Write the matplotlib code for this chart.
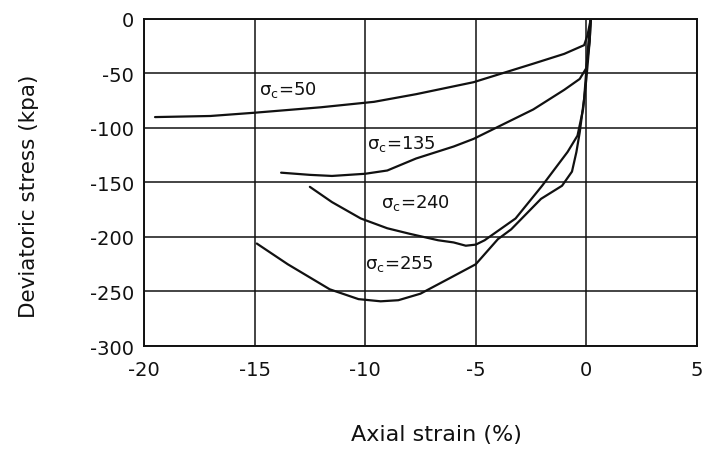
import matplotlib
matplotlib.use("Agg")
import matplotlib.pyplot as plt

plt.rcParams['font.family'] = ['DejaVu Sans']
plt.rcParams['axes.unicode_minus'] = False
plt.rcParams['mathtext.fontset'] = 'dejavusans'

# Axial strain (%) / deviatoric stress (kPa) for each confining pressure
strain_50 = [-19.5, -17.0, -15.0, -12.0, -9.6, -7.7, -5.1, -2.4, -1.0, -0.1, 0.05, 0.15, 0.2]
stress_50 = [-90, -89, -86, -81, -76, -69, -58, -41, -32, -24, -15, -5, 0]

strain_135 = [-13.8, -12.5, -11.5, -10.0, -9.0, -7.7, -6.0, -5.1, -4.3, -2.4, -1.0, -0.3, 0.0, 0.15, 0.2]
stress_135 = [-141, -143, -144, -142, -139, -128, -117, -110, -102, -83, -65, -55, -45, -20, 0]

strain_240 = [-12.5, -11.5, -10.2, -9.0, -8.0, -6.7, -6.0, -5.45, -5.0, -4.6, -3.2, -2.0,
              -0.85, -0.4, -0.15, 0.0, 0.15, 0.2]
stress_240 = [-154, -168, -183, -192, -197, -203, -205, -208, -207, -203, -183, -153,
              -122, -107, -83, -55, -20, 0]

strain_255 = [-14.9, -13.5, -11.6, -10.3, -9.3, -8.5, -7.5, -6.2, -5.0, -4.0, -3.4, -2.05,
              -1.1, -0.65, -0.45, -0.3, -0.1, 0.1, 0.2]
stress_255 = [-206, -225, -248, -257, -259, -258, -252, -238, -225, -202, -193, -165,
              -153, -140, -122, -104, -73, -20, 0]

curve_labels = ["50", "135", "240", "255"]
label_pos = [(-14.8, -64), (-9.9, -114), (-9.3, -168), (-10.0, -224)]

x_ticks = [-20, -15, -10, -5, 0, 5]
y_ticks = [0, -50, -100, -150, -200, -250, -300]

fig = plt.figure(figsize=(7.04, 4.52), dpi=100)
ax = fig.add_axes([0.2045, 0.2323, 0.7855, 0.7235])

ink = "#111111"
for xs, ys in [(strain_50, stress_50), (strain_135, stress_135),
               (strain_240, stress_240), (strain_255, stress_255)]:
    ax.plot(xs, ys, color=ink, lw=1.6, solid_joinstyle='round', solid_capstyle='round')

for name, (lx, ly) in zip(curve_labels, label_pos):
    ax.text(lx, ly, r"σ$_{\mathrm{c}}$=" + name, fontsize=13, color=ink,
            ha='left', va='center')

ax.set_xlim(-20, 5)
ax.set_ylim(-300, 0)
ax.set_xticks(x_ticks)
ax.set_yticks(y_ticks)
ax.set_xticklabels([str(t) for t in x_ticks])
ax.set_yticklabels([str(t) for t in y_ticks])
ax.grid(True, color=ink, lw=1.1)
ax.set_axisbelow(True)
for s in ax.spines.values():
    s.set_color(ink)
    s.set_linewidth(1.4)
ax.tick_params(length=0, labelsize=14, colors=ink)
ax.tick_params(axis='y', pad=7)
ax.tick_params(axis='x', pad=10)

ax.set_xlabel("Axial strain (%)", fontsize=16, color=ink)
ax.set_ylabel("Deviatoric stress (kpa)", fontsize=15.5, color=ink)
ax.xaxis.set_label_coords(0.529, -0.237)
ax.yaxis.set_label_coords(-0.19, 0.46)

fig.savefig("out.png", dpi=100, facecolor="white")
